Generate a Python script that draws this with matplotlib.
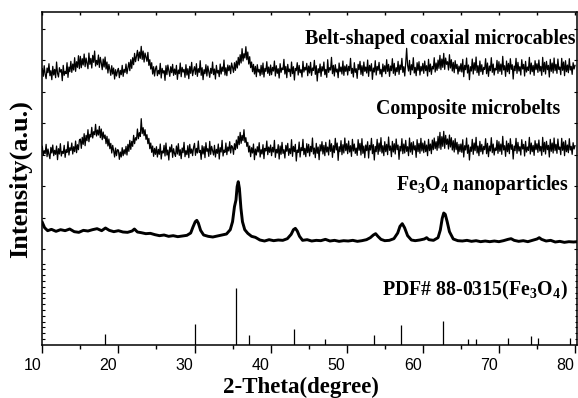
import numpy as np
import matplotlib
matplotlib.use("Agg")
import matplotlib.pyplot as plt
from matplotlib.transforms import ScaledTranslation

plt.rcParams["mathtext.fontset"] = "custom"
plt.rcParams["mathtext.rm"] = "Liberation Serif:bold"
plt.rcParams["mathtext.it"] = "Liberation Serif:bold"
plt.rcParams["mathtext.bf"] = "Liberation Serif:bold"

# ---- data (intensity in arbitrary units, traces offset as in the figure) ----
# noisy scans sampled every 0.125 degree from 10 to 80
scan_2theta = np.linspace(10, 80, 561)

belt_cables = [
    82.9, 80.6, 83.8, 81.2, 79.9, 83.1, 81.7, 84.4, 80.8, 82.3, 79.6, 83.6, 81.0, 82.7, 80.2, 84.9, 81.5, 80.4, 83.2, 81.9,
    82.6, 79.3, 83.9, 80.9, 82.1, 81.4, 84.7, 80.3, 83.4, 82.0, 85.1, 81.8, 84.3, 82.5, 86.2, 82.1, 85.0, 83.3, 86.8, 82.9,
    86.6, 83.2, 85.9, 84.0, 87.3, 83.5, 86.1, 84.4, 82.9, 87.6, 84.2, 86.0, 83.1, 86.9, 84.8, 88.2, 83.7, 85.4, 84.1, 87.0,
    83.3, 86.3, 84.6, 82.6, 85.8, 83.4, 86.4, 82.8, 84.9, 81.6, 84.2, 82.7, 80.9, 83.8, 81.3, 83.1, 79.8, 82.6, 80.7, 82.2,
    83.0, 80.2, 82.4, 81.1, 83.9, 80.6, 82.7, 81.8, 84.3, 81.4, 83.1, 84.8, 82.3, 85.6, 83.0, 86.2, 84.1, 87.5, 85.0, 86.6,
    88.4, 85.3, 87.9, 86.0, 89.6, 85.7, 88.2, 84.9, 87.6, 86.4, 85.1, 87.8, 83.9, 85.6, 82.8, 84.7, 81.3, 83.5, 80.7, 82.9,
    83.7, 80.8, 82.4, 81.3, 84.5, 80.1, 83.0, 81.6, 82.3, 79.4, 83.8, 81.1, 84.0, 82.2, 80.6, 83.5, 81.7, 84.2, 80.9, 82.8,
    81.2, 83.9, 79.7, 82.5, 81.4, 84.6, 80.5, 83.3, 81.9, 82.7, 80.3, 84.1, 81.0, 82.9, 79.9, 83.6, 81.5, 84.8, 80.8, 82.4,
    83.5, 81.2, 84.4, 80.6, 82.9, 81.8, 85.3, 80.9, 83.2, 79.6, 82.6, 81.4, 84.1, 80.7, 83.7, 82.0, 80.3, 83.0, 81.5, 84.9,
    81.1, 82.8, 79.8, 83.9, 81.6, 82.4, 80.5, 84.3, 81.3, 83.4, 82.1, 85.5, 81.0, 83.2, 80.8, 84.0, 82.3, 83.8, 81.4, 84.6,
    83.3, 81.8, 84.7, 82.4, 85.2, 83.1, 86.3, 84.0, 87.1, 84.6, 88.9, 85.2, 87.4, 86.1, 89.5, 85.6, 87.9, 84.3, 86.5, 83.2,
    84.9, 82.0, 84.2, 81.3, 83.6, 80.5, 84.1, 81.9, 82.7, 80.8, 83.9, 81.2, 84.6, 80.4, 83.0, 82.1, 85.0, 81.5, 83.4, 80.9,
    84.0, 81.1, 83.3, 82.2, 85.2, 80.7, 83.8, 81.5, 82.9, 80.1, 84.4, 81.8, 83.1, 82.6, 85.7, 81.3, 83.6, 80.2, 84.2, 82.0,
    82.8, 80.6, 84.9, 81.4, 83.5, 79.5, 83.0, 82.3, 84.7, 81.0, 83.9, 81.7, 82.6, 80.4, 85.1, 81.9, 83.3, 82.5, 84.5, 80.8,
    83.7, 81.6, 84.8, 80.9, 83.1, 82.4, 85.4, 81.2, 83.8, 79.2, 82.9, 81.7, 84.3, 80.6, 83.5, 82.2, 84.9, 81.1, 82.7, 80.3,
    85.6, 81.8, 83.2, 82.5, 86.3, 81.4, 83.9, 80.7, 84.1, 81.9, 82.8, 80.2, 84.6, 82.0, 83.4, 81.3, 85.2, 80.9, 83.7, 82.1,
    84.1, 81.0, 83.6, 82.3, 86.0, 81.5, 83.0, 80.4, 84.7, 81.8, 82.9, 80.0, 84.2, 82.6, 85.1, 81.2, 83.8, 80.8, 84.9, 82.1,
    83.4, 81.6, 85.5, 80.6, 83.9, 82.2, 84.4, 79.7, 83.1, 81.9, 85.3, 81.0, 83.6, 82.4, 84.8, 81.3, 82.7, 80.5, 84.3, 82.0,
    83.8, 81.4, 85.6, 82.1, 84.2, 80.6, 83.7, 82.3, 85.9, 81.5, 84.5, 80.9, 83.2, 82.0, 85.1, 81.2, 84.0, 82.6, 86.0, 81.8,
    83.5, 80.7, 84.6, 89.0, 83.9, 82.2, 85.4, 81.1, 84.1, 82.5, 86.2, 81.6, 83.3, 80.8, 84.7, 82.4, 85.0, 81.0, 83.6, 82.2,
    84.5, 81.5, 85.2, 82.3, 83.8, 80.7, 85.7, 82.0, 84.3, 81.2, 83.6, 82.8, 86.2, 81.9, 84.6, 82.4, 85.5, 83.0, 86.9, 82.6,
    85.8, 83.3, 87.5, 82.7, 86.1, 84.2, 85.0, 82.5, 87.1, 83.1, 85.6, 82.2, 84.8, 81.7, 85.3, 82.9, 84.2, 81.3, 83.7, 82.1,
    84.4, 81.9, 85.7, 80.5, 83.9, 82.6, 86.1, 81.6, 84.0, 79.6, 83.5, 82.2, 85.8, 81.3, 84.7, 82.4, 86.4, 81.7, 83.8, 80.9,
    85.2, 82.0, 84.1, 81.2, 83.3, 82.7, 85.9, 81.4, 84.6, 80.6, 83.7, 82.3, 86.2, 81.8, 84.3, 81.0, 83.0, 82.5, 85.4, 81.5,
    85.0, 82.1, 84.3, 81.2, 86.6, 82.5, 83.8, 80.6, 85.2, 82.0, 84.5, 81.4, 85.9, 82.7, 84.1, 79.8, 83.7, 82.3, 86.0, 81.5,
    84.8, 82.2, 83.5, 81.0, 85.6, 82.8, 84.2, 80.7, 85.1, 81.9, 83.4, 82.4, 86.3, 81.3, 84.6, 82.0, 83.9, 80.9, 85.3, 82.6,
    84.4, 81.8, 85.5, 82.2, 83.6, 80.9, 86.3, 82.0, 84.8, 81.3, 85.1, 82.6, 83.9, 80.4, 85.7, 82.1, 84.6, 81.6, 86.1, 82.3,
    84.2, 81.5, 85.8, 82.7, 83.4, 81.1, 86.0, 82.4, 84.9, 80.8, 85.3, 82.0, 84.0, 81.7, 85.9, 82.5, 83.6, 81.2, 84.7, 82.8,
    83.9,
]

composite_belts = [
    59.6, 56.9, 58.3, 57.4, 60.2, 56.5, 58.8, 57.1, 55.9, 59.3, 57.6, 60.0, 56.8, 58.4, 57.2, 59.7, 55.6, 58.9, 57.3, 60.4,
    56.7, 58.1, 57.5, 59.9, 56.3, 58.6, 57.8, 61.0, 57.0, 59.2, 58.4, 60.6, 57.3, 59.5, 58.0, 61.2, 57.7, 60.1, 58.6, 61.5,
    61.8, 59.0, 62.3, 60.2, 63.4, 59.8, 62.9, 61.3, 64.6, 61.0, 63.2, 62.4, 65.3, 62.1, 64.0, 63.1, 66.2, 62.7, 64.5, 63.0,
    65.6, 62.2, 64.8, 61.6, 63.9, 62.0, 63.0, 60.4, 62.6, 59.7, 61.8, 58.9, 60.5, 57.6, 59.9, 58.3, 56.4, 59.1, 56.8, 58.6,
    58.5, 55.7, 57.9, 56.4, 59.2, 56.8, 58.6, 57.3, 59.6, 57.0, 60.2, 58.1, 61.4, 58.7, 61.1, 59.6, 62.9, 60.4, 62.2, 61.5,
    64.8, 61.9, 63.7, 62.6, 67.9, 63.4, 65.2, 62.8, 64.6, 61.7, 63.1, 60.4, 62.0, 58.9, 60.6, 57.8, 59.7, 56.6, 59.0, 57.2,
    59.5, 56.4, 58.7, 57.2, 60.3, 55.8, 58.2, 57.6, 59.9, 56.7, 60.6, 57.0, 58.5, 55.5, 59.4, 57.9, 60.1, 56.3, 58.9, 57.4,
    56.6, 59.7, 57.3, 60.4, 56.9, 58.6, 55.9, 59.1, 57.7, 60.8, 56.5, 58.3, 57.1, 59.8, 56.2, 60.2, 57.5, 58.8, 56.8, 59.3,
    60.5, 56.9, 59.0, 57.6, 61.2, 57.8, 58.4, 55.7, 59.8, 57.3, 59.5, 56.2, 60.7, 58.1, 58.9, 56.6, 61.1, 57.2, 59.6, 58.3,
    57.0, 59.9, 56.4, 58.7, 57.5, 60.3, 55.8, 59.2, 57.9, 61.4, 56.7, 58.5, 57.8, 60.6, 57.1, 59.4, 58.2, 61.0, 57.6, 59.8,
    59.3, 57.2, 60.4, 58.6, 61.5, 59.0, 62.6, 60.1, 63.8, 60.5, 62.9, 61.3, 64.6, 60.8, 62.2, 59.6, 60.8, 57.9, 59.7, 56.5,
    59.2, 57.6, 60.3, 55.6, 58.8, 57.0, 59.5, 57.9, 60.7, 56.4, 58.6, 57.3, 60.1, 55.9, 59.0, 58.2, 61.2, 57.1, 59.4, 57.8,
    60.0, 56.8, 59.3, 57.9, 61.4, 56.3, 58.7, 57.6, 60.1, 55.8, 59.7, 57.2, 60.8, 57.5, 58.6, 56.1, 59.9, 58.1, 60.5, 56.9,
    58.9, 57.4, 61.6, 56.6, 59.6, 58.0, 60.2, 55.2, 58.5, 57.8, 60.9, 56.4, 59.2, 58.3, 61.7, 57.1, 59.0, 56.5, 60.4, 57.7,
    60.2, 56.7, 59.6, 58.0, 62.1, 57.3, 59.1, 56.2, 60.5, 57.5, 59.4, 55.6, 60.1, 58.2, 61.0, 57.3, 59.9, 56.8, 60.8, 57.9,
    59.4, 57.0, 61.5, 58.1, 60.4, 56.3, 59.8, 57.7, 62.0, 58.5, 60.6, 55.4, 59.5, 58.0, 61.3, 57.1, 60.1, 57.6, 62.1, 58.3,
    60.4, 57.4, 61.2, 57.9, 59.8, 56.6, 61.7, 58.2, 60.3, 57.5, 59.1, 56.9, 61.6, 58.4, 60.5, 57.0, 61.9, 57.5, 59.7, 56.2,
    60.0, 58.3, 61.0, 56.1, 59.9, 58.5, 62.0, 57.4, 60.1, 55.5, 59.6, 58.0, 61.7, 57.2, 60.6, 58.1, 62.2, 57.6, 59.8, 56.8,
    61.0, 58.0, 60.2, 57.1, 62.4, 58.4, 59.7, 56.5, 61.1, 57.9, 60.4, 57.3, 61.8, 58.6, 60.0, 55.7, 59.6, 58.2, 61.9, 57.4,
    60.3, 57.6, 61.4, 58.1, 59.5, 56.8, 62.1, 57.9, 60.7, 57.2, 61.0, 58.5, 59.8, 56.3, 61.6, 58.0, 60.5, 57.5, 62.0, 58.2,
    60.6, 57.7, 61.2, 58.0, 60.0, 56.8, 61.7, 58.3, 60.3, 57.4, 61.5, 58.6, 62.1, 58.9, 61.0, 58.4, 62.6, 59.1, 63.8, 58.7,
    62.5, 59.6, 64.1, 59.0, 62.9, 60.2, 61.8, 58.8, 63.0, 59.4, 62.2, 58.5, 61.3, 57.9, 61.9, 58.6, 60.8, 57.3, 60.2, 58.0,
    60.3, 57.8, 61.6, 56.4, 59.8, 58.5, 62.1, 57.5, 60.0, 55.5, 59.4, 58.1, 61.7, 57.2, 60.6, 58.3, 62.3, 57.6, 59.7, 56.8,
    61.1, 58.0, 60.2, 57.3, 59.6, 58.6, 61.9, 57.4, 60.5, 56.5, 59.7, 58.2, 62.2, 57.7, 60.3, 57.0, 59.1, 58.4, 61.4, 57.5,
    61.0, 58.1, 60.3, 57.2, 62.6, 58.5, 59.8, 56.6, 61.2, 58.0, 60.5, 57.4, 61.9, 58.7, 60.1, 55.8, 59.7, 58.3, 62.0, 57.5,
    60.8, 58.2, 59.5, 57.0, 61.6, 58.8, 60.2, 56.7, 61.1, 57.9, 59.4, 58.4, 62.3, 57.3, 60.6, 58.0, 59.9, 56.9, 61.3, 58.6,
    60.4, 57.8, 61.5, 58.2, 59.6, 56.9, 62.3, 58.0, 60.8, 57.3, 61.1, 58.6, 59.9, 56.4, 61.7, 58.1, 60.6, 57.6, 62.1, 58.3,
    60.2, 57.5, 61.8, 58.7, 59.4, 57.1, 62.0, 58.4, 60.9, 56.8, 61.3, 58.0, 60.0, 57.7, 61.9, 58.5, 59.6, 57.2, 60.7, 58.8,
    59.8,
]

# Fe3O4 nanoparticle scan (denser around the peaks)
fe3o4_2theta = [
    10.0, 10.3, 10.7, 11.2, 11.8, 12.4, 13.0, 13.6, 14.2, 14.8,
    15.4, 16.0, 16.6, 17.2, 17.8, 18.3, 18.8, 19.4, 20.0, 20.6,
    21.2, 21.8, 22.1, 22.5, 23.0, 23.6, 24.2, 24.8, 25.4, 26.0,
    26.6, 27.2, 27.8, 28.4, 29.0, 29.5, 29.8, 30.1, 30.3, 30.5,
    30.8, 31.2, 31.8, 32.4, 33.0, 33.6, 34.2, 34.7, 35.0, 35.25,
    35.45, 35.6, 35.75, 35.9, 36.1, 36.3, 36.6, 37.0, 37.5, 38.0,
    38.6, 39.2, 39.8, 40.4, 41.0, 41.6, 42.2, 42.7, 43.0, 43.25,
    43.5, 43.8, 44.2, 44.8, 45.4, 46.0, 46.6, 47.2, 47.8, 48.4,
    49.0, 49.6, 50.2, 50.8, 51.4, 52.0, 52.6, 53.1, 53.5, 53.8,
    54.1, 54.5, 55.0, 55.6, 56.2, 56.7, 57.0, 57.3, 57.6, 58.0,
    58.5, 59.0, 59.6, 60.2, 60.5, 60.8, 61.4, 62.0, 62.3, 62.55,
    62.75, 62.95, 63.2, 63.5, 64.0, 64.6, 65.2, 65.8, 66.4, 67.0,
    67.6, 68.2, 68.8, 69.4, 70.0, 70.6, 71.2, 71.6, 72.0, 72.6,
    73.2, 73.8, 74.4, 75.0, 75.3, 75.6, 76.2, 76.8, 77.4, 78.0,
    78.6, 79.2, 79.8, 80.3,
]
fe3o4_intensity = [
    36.8, 35.2, 34.3, 34.7, 34.1, 34.6, 34.3, 34.8, 34.0, 33.8,
    34.4, 34.2, 34.6, 34.9, 34.3, 35.1, 34.4, 34.0, 34.3, 33.9,
    33.8, 34.2, 34.8, 33.9, 33.7, 33.4, 33.5, 33.1, 32.8, 33.0,
    32.6, 32.8, 32.5, 32.7, 32.9, 33.6, 35.4, 37.0, 37.4, 36.6,
    34.4, 33.0, 32.6, 32.4, 32.7, 33.0, 33.3, 34.6, 37.0, 41.5,
    43.5, 47.5, 49.0, 47.0, 41.0, 37.0, 34.6, 33.5, 32.6, 32.3,
    31.5, 31.2, 31.6, 31.3, 31.5, 31.4, 31.9, 33.2, 34.6, 35.0,
    34.2, 32.6, 31.4, 31.6, 31.2, 31.4, 31.3, 31.7, 31.2, 31.4,
    31.1, 31.3, 31.2, 31.4, 31.1, 31.3, 31.6, 32.2, 33.0, 33.4,
    32.6, 31.7, 31.3, 31.4, 31.9, 33.6, 35.6, 36.4, 35.2, 32.8,
    31.5, 31.3, 31.5, 31.8, 32.2, 31.6, 31.4, 32.2, 34.5, 38.0,
    39.6, 39.2, 37.0, 34.0, 31.8, 31.3, 31.2, 31.4, 31.1, 31.3,
    31.0, 31.2, 31.0, 31.2, 31.0, 31.3, 31.7, 31.9, 31.4, 31.1,
    31.3, 31.0, 31.4, 31.8, 32.2, 31.7, 31.2, 31.4, 30.9, 31.1,
    30.8, 31.0, 30.9, 31.0,
]

# PDF# 88-0315 reference lines
pdf_2theta = [18.3, 30.1, 35.5, 37.1, 43.1, 47.2, 53.6, 57.1, 62.7, 65.9, 67.0, 71.2, 74.2, 75.2, 79.3]
pdf_height = [3.3, 6.3, 17.2, 2.9, 4.9, 1.8, 3.0, 6.0, 7.2, 1.8, 1.8, 2.1, 2.8, 2.1, 2.1]

x_major = [10, 20, 30, 40, 50, 60, 70, 80]
x_minor = [15, 25, 35, 45, 55, 65, 75]

# ---- figure ----
fig = plt.figure(figsize=(5.78, 3.98), dpi=100)
ax = fig.add_axes([42.3 / 578, 1 - 345 / 398, (577 - 42.3) / 578, (345 - 11.7) / 398])

ax.plot(scan_2theta, belt_cables, color="black", lw=0.9)
ax.plot(scan_2theta, composite_belts, color="black", lw=0.9)
ax.plot(fe3o4_2theta, fe3o4_intensity, color="black", lw=2.1)
ax.vlines(pdf_2theta, 0, pdf_height, color="black", lw=0.9)

ax.set_xlim(10, 80.26)
ax.set_ylim(0, 100)

for s in ax.spines.values():
    s.set_linewidth(1.1)

ax.set_xticks(x_major)
ax.set_xticks(x_minor, minor=True)
ax.tick_params(axis="x", which="major", direction="out", length=5.8, width=1.0,
               labelsize=11.5, pad=3.5)
ax.tick_params(axis="x", which="minor", direction="out", length=3.0, width=1.0)
ax.tick_params(axis="x", which="both", top=True)
for lbl in ax.get_xticklabels():
    lbl.set_fontfamily("Liberation Sans")

# y axis: no labels, small inward ticks on both sides
y_major = [94.8, 85.4, 75.9, 66.5, 57.0, 47.6, 38.1, 28.7]
ax.set_yticks(y_major)
ax.set_yticks(np.arange(1.8, 25.6, 1.74), minor=True)
ax.tick_params(axis="y", which="both", direction="in", left=True, right=True,
               labelleft=False, width=0.8)
ax.tick_params(axis="y", which="major", length=2.5)
ax.tick_params(axis="y", which="minor", length=1.8)

# annotations
serif = dict(family="Liberation Serif", weight="bold", color="black")
ax.text(80.0, 91.8, "Belt-shaped coaxial microcables", ha="right", va="center", fontsize=14.3, **serif)
ax.text(78.0, 70.7, "Composite microbelts", ha="right", va="center", fontsize=14.3, **serif)
ax.text(79.2, 48.0, r"Fe$_3$O$_4$ nanoparticles", ha="right", va="center", fontsize=14.3, **serif)
ax.text(79.1, 16.5, r"PDF# 88-0315(Fe$_3$O$_4$)", ha="right", va="center", fontsize=14.3, **serif)

fig.text(301 / 578, 1 - 387 / 398, "2-Theta(degree)", ha="center", va="center", fontsize=16.5, **serif)
fig.text(20 / 578, 1 - 179 / 398, "Intensity(a.u.)", ha="center", va="center", rotation=90,
         fontsize=19, **serif)

fig.canvas.draw()
# the tick numbers sit a little left of their ticks in the original
shift = ScaledTranslation(-10 / 100, 0, fig.dpi_scale_trans)
for lbl in ax.get_xticklabels():
    lbl.set_transform(lbl.get_transform() + shift)

# top ticks: short and pointing into the plot
for t in ax.xaxis.get_major_ticks() + ax.xaxis.get_minor_ticks():
    t.tick2line.set_marker(matplotlib.lines.TICKDOWN)
    t.tick2line.set_markersize(2.5)

fig.savefig("out.png", dpi=100)
